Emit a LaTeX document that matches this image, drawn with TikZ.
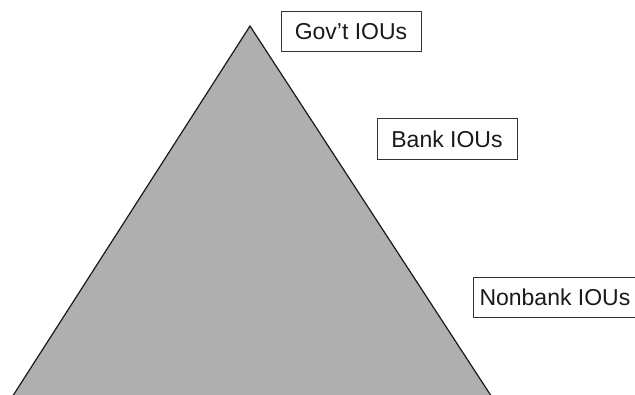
\documentclass[tikz,border=0pt]{standalone}
\usepackage{fontspec}
\setmainfont{Liberation Sans}
\definecolor{pyrfill}{HTML}{AFAFAF}
\definecolor{boxline}{HTML}{333333}
\definecolor{txt}{HTML}{1A1A1A}
\begin{document}
\begin{tikzpicture}[x=1pt,y=-1pt,
  labelbox/.style={draw=boxline, line width=1pt, fill=white, text=txt,
    font=\fontsize{23}{27}\selectfont, minimum height=40.5pt, inner xsep=6pt, inner ysep=0pt},
  pyr/.style={fill=pyrfill},
  pyredge/.style={draw=black!90, line width=1.2pt}]
\useasboundingbox (0,0) rectangle (635,394);
\coordinate (apex) at (250,26);
\coordinate (bl) at (11.5,398);
\coordinate (br) at (492.5,398);
\fill[pyr] (apex) -- (br) -- (bl) -- cycle;
\draw[pyredge] (bl) -- (apex) -- (br);
\node[labelbox, minimum width=140pt] (gov) at (351,31.5) {Gov’t IOUs};
\node[labelbox, minimum width=140pt] (bank) at (447,139) {Bank IOUs};
\node[labelbox, minimum width=161pt, anchor=west] (nonbank) at (473,297.5) {Nonbank IOUs};
\end{tikzpicture}
\end{document}
